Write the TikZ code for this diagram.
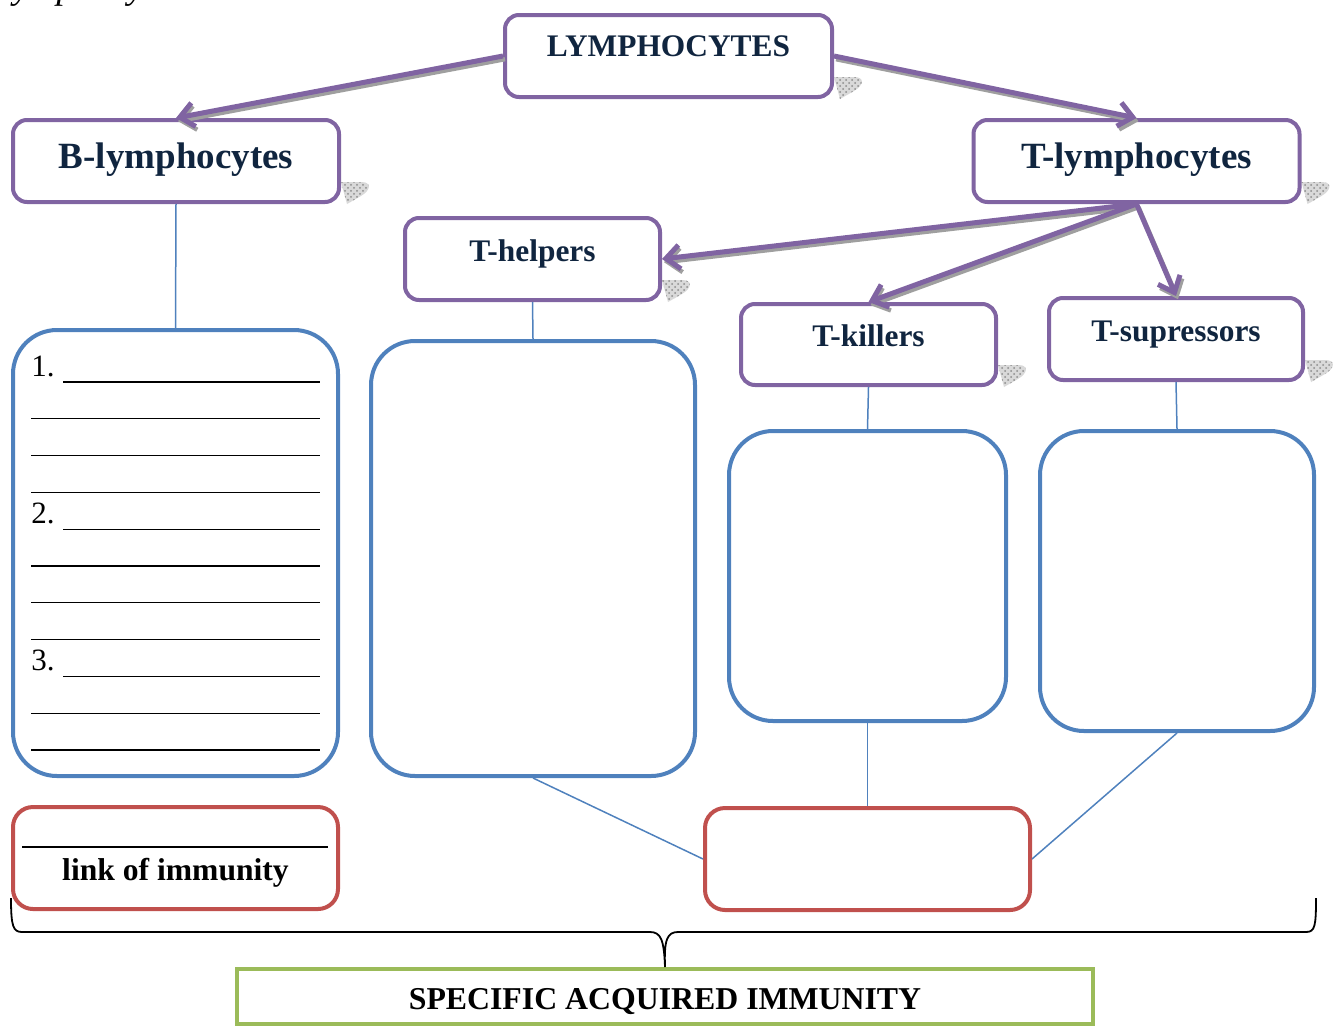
\documentclass[tikz,border=0pt]{standalone}
\usepackage{fontspec}
\setmainfont{Liberation Serif}
\usetikzlibrary{arrows.meta,patterns}
\definecolor{lilac}{HTML}{8064A2}
\definecolor{steel}{HTML}{4F81BD}
\definecolor{brick}{HTML}{C0504D}
\definecolor{olive}{HTML}{9BBB59}
\definecolor{navy}{HTML}{10253F}
\pgfdeclarelayer{background}
\pgfsetlayers{background,main}
% hatched curl under the lower right corner of a purple box
\newcommand\boxcurl[1]{%
  \fill[curl] ([shift={(0,-22)}]#1.south east) -- ([shift={(20,-22)}]#1.south east)
    .. controls ([shift={(31,-22)}]#1.south east) and ([shift={(30,-14)}]#1.south east)
    .. ([shift={(20,-8)}]#1.south east) -- ([shift={(6,0)}]#1.south east) -- cycle;}

\begin{document}
\begin{tikzpicture}[x=0.5pt,y=-0.5pt,>={Straight Barb[length=7pt,width=12pt]},
  pbox/.style={draw=lilac,line width=2pt,rounded corners=7pt,fill=white,inner sep=0pt,
    minimum width=127.5pt,minimum height=41pt,text=navy,
    font=\bfseries\fontsize{15.7}{18}\selectfont,text height=10.4pt,text depth=8pt},
  bigbox/.style={pbox,minimum width=163pt,font=\bfseries\fontsize{18.5}{21}\selectfont,
    text height=12.2pt,text depth=4.5pt},
  bbox/.style={draw=steel,line width=2pt,rounded corners=22pt,inner sep=0pt},
  rbox/.style={draw=brick,line width=2pt,rounded corners=10pt,inner sep=0pt,
    minimum width=162.5pt,minimum height=51pt},
  gbox/.style={draw=olive,line width=2pt,inner sep=0pt,minimum width=428pt,minimum height=27.5pt},
  wire/.style={draw=steel,line width=0.75pt},
  rule/.style={draw=black,line width=0.6pt},
  num/.style={font=\fontsize{15.5}{18}\selectfont,inner sep=0pt},
  bold/.style={font=\bfseries\fontsize{15.8}{18}\selectfont,inner sep=0pt},
  curl/.style={preaction={fill=gray!30},pattern=crosshatch dots,pattern color=gray!90},
  parrow/.style={->,draw=lilac,line width=2.5pt,
    preaction={draw=gray!75,line width=2.2pt,transform canvas={shift={(1pt,-1.6pt)}}}}]
  \useasboundingbox (0,0) rectangle (1336,1028);
  % cut off line of the text above
  \begin{scope}
    \clip (0,0) rectangle (1336,1028);
    \node[anchor=base west,inner sep=0pt,font=\itshape\fontsize{18.4}{20}\selectfont] (prevline) at (3,-2) {lymphocytes};
  \end{scope}
  % Cell types
  \node[pbox,text depth=9.5pt,minimum width=163.5pt] (lym) at (668.5,56) {LYMPHOCYTES};
  \node[bigbox] (blym) at (176,161) {B-lymphocytes};
  \node[bigbox] (tlym) at (1136.5,161) {T-lymphocytes};
  \node[pbox] (thelp) at (532.5,259) {T-helpers};
  \node[pbox,minimum height=40.5pt] (tkill) at (868.5,344.5) {T-killers};
  \node[pbox,minimum width=127pt] (tsup) at (1176,339) {T-supressors};
  \begin{pgfonlayer}{background}
    \foreach \b in {lym,blym,tlym,thelp,tkill,tsup} {\boxcurl{\b}}
  \end{pgfonlayer}
  % Answer boxes
  \node[bbox,minimum width=162.5pt,minimum height=223pt] (lbox) at (175.5,553) {};
  \node[bbox,minimum width=162pt,minimum height=217.5pt] (hbox) at (533,558.5) {};
  \node[bbox,minimum width=138.5pt,minimum height=145pt] (kbox) at (867.5,576) {};
  \node[bbox,minimum width=137pt,minimum height=150pt] (sbox) at (1177,581) {};
  % Lines to fill in
  \foreach \i/\xs in {0/63,1/31,2/31,3/31,4/63,5/31,6/31,7/31,8/63,9/31,10/31}
    {\draw[rule] (\xs,{382+36.8*\i}) -- (320,{382+36.8*\i});}
  \foreach \n/\i in {1/0,2/4,3/8}
    {\node[num,anchor=base west] (num\n) at (31,{376+36.8*\i}) {\n.};}
  % Links of immunity
  \node[rbox] (linkbox) at (175.5,858) {};
  \draw[rule] (22,847) -- (328,847);
  \node[bold,anchor=base] (linktxt) at (175.5,880) {link of immunity};
  \node[rbox] (cellbox) at (867.5,859) {};
  \node[gbox] (sai) at (665,996.5) {};
  \node[bold,font=\bfseries\fontsize{15.9}{18}\selectfont,anchor=base] (saitxt) at (665,1009) {SPECIFIC ACQUIRED IMMUNITY};
  % Arrows
  \draw[parrow] (lym.west) -- (blym.north);
  \draw[parrow] (lym.east) -- (tlym.north);
  \draw[parrow] (tlym.south) -- (thelp.east);
  \draw[parrow] (tlym.south) -- (tkill.north);
  \draw[parrow] (tlym.south) -- (tsup.north);
  % Thin connectors
  \draw[wire] (blym.south) -- (lbox.north);
  \draw[wire] (thelp.south) -- (hbox.north);
  \draw[wire] (tkill.south) -- (kbox.north);
  \draw[wire] (tsup.south) -- (sbox.north);
  \draw[wire] (hbox.south) -- (cellbox.west);
  \draw[wire] (kbox.south) -- (cellbox.north);
  \draw[wire] (sbox.south) -- (cellbox.east);
  % Brace
  \coordinate (braceL) at (11,898);
  \coordinate (braceR) at (1316,898);
  \draw[line width=0.9pt] (braceL) .. controls (11,926) and (13,932) .. (22,932) -- (650,932)
    .. controls (661,932) and (664,940) .. (sai.north) .. controls (664,940) and (667,932) .. (678,932)
    -- (1306,932) .. controls (1315,932) and (1316,926) .. (braceR);
\end{tikzpicture}
\end{document}
